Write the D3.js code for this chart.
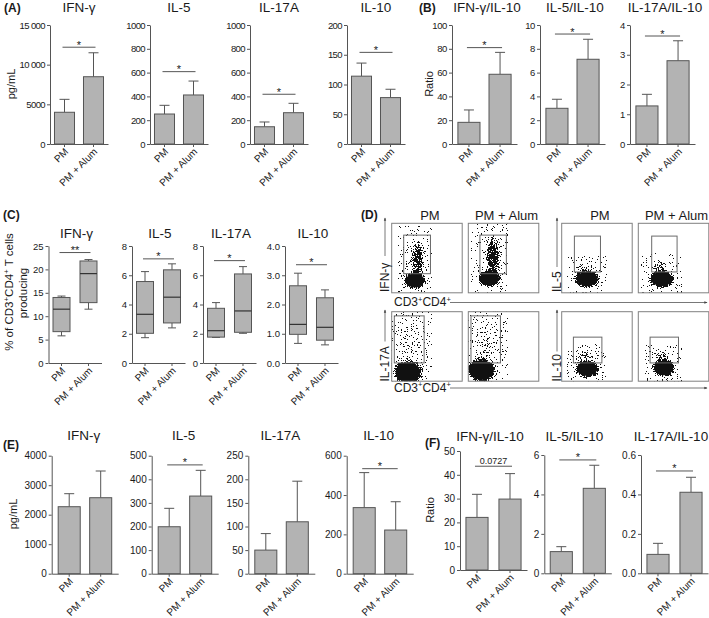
<!DOCTYPE html>
<html><head><meta charset="utf-8">
<script src="https://cdn.jsdelivr.net/npm/d3@7"></script>
<style>
body{margin:0;background:#fff}
svg{display:block}
</style>
</head><body>
<svg id="chart" width="709" height="618"></svg>
<script>
// ---------------- DATA ----------------
const groups = ["PM", "PM + Alum"];

// (A) cytokine concentration, pg/mL: mean and SEM
const aTitles = ["IFN-γ", "IL-5", "IL-17A", "IL-10"];
const aMeans = [[4000, 8480], [252, 412], [145, 263], [114, 78]];
const aSems  = [[1630, 3020], [73, 117], [40, 79], [22, 14]];
const aMax   = [15000, 1000, 1000, 200];
const aTicks = [[0, 5000, 10000, 15000], [0, 200, 400, 600, 800, 1000], [0, 200, 400, 600, 800, 1000], [0, 50, 100, 150, 200]];
const aSig   = [["*", 12200], ["*", 608], ["*", 418], ["*", 154]];

// (B) ratios
const bTitles = ["IFN-γ/IL-10", "IL-5/IL-10", "IL-17A/IL-10"];
const bMeans = [[18.2, 58.6], [3.0, 7.12], [1.28, 2.80]];
const bSems  = [[10.4, 18.4], [0.76, 1.68], [0.39, 0.67]];
const bMax   = [100, 10, 4];
const bTicks = [[0, 20, 40, 60, 80, 100], [0, 2, 4, 6, 8, 10], [0, 1, 2, 3, 4]];
const bSig   = [["*", 81], ["*", 9.24], ["*", 3.63]];

// (C) % of CD3+CD4+ T cells producing: [min, q1, median, q3, max]
const cTitles = ["IFN-γ", "IL-5", "IL-17A", "IL-10"];
const cBoxes = [
  [[5.8, 6.7, 11.5, 14.0, 14.3], [11.5, 12.9, 19.1, 21.8, 22.1]],
  [[1.73, 2.03, 3.33, 5.57, 6.25], [2.4, 2.74, 4.5, 6.37, 6.78]],
  [[1.75, 1.77, 2.21, 3.74, 4.13], [2.03, 2.1, 3.56, 6.09, 6.59]],
  [[0.67, 0.98, 1.32, 2.64, 3.07], [0.62, 0.78, 1.22, 2.23, 2.5]]
];
const cMax   = [25, 8, 8, 4];
const cTicks = [[0, 5, 10, 15, 20, 25], [0, 2, 4, 6, 8], [0, 2, 4, 6, 8], [0, 1, 2, 3, 4]];
const cSig   = [["**", 23.6], ["*", 7.12], ["*", 7.0], ["*", 3.36]];

// (D) flow cytometry dot plots (row-major: row 1 IFN-γ | IL-5, row 2 IL-17A | IL-10)
const dCols = ["PM", "PM + Alum", "PM", "PM + Alum"];
const dRowLabels = [["IFN-γ", "IL-5"], ["IL-17A", "IL-10"]];
// gates [x1, x2, y1, y2] in % of plot scale
const dGates = [
  [17, 55, 27.5, 83], [16.5, 54, 27.5, 83], [18, 55, 30, 81.6], [19, 55, 30, 81.6],
  [3.7, 46, 26.3, 94], [3.8, 45.6, 26.3, 94], [16.6, 57, 26.3, 63.4], [16.7, 57, 26.3, 63.4]
];
// dense populations [cx, cy, rx, ry] in % of plot scale
const dBlobs = [
  [33, 18, 17, 14], [30, 21, 18, 14], [36, 20, 20, 14], [33, 20, 20, 14],
  [23, 13, 23, 19], [19, 16, 23, 19], [36, 18, 19, 14], [36, 19, 18, 14]
];
// sparse populations [cx, cy, rx, ry, density]
const dClouds = [
  [37, 48, 11, 32, 0.75], [35, 52, 13, 36, 0.85], [32, 34, 16, 11, 0.35], [31, 36, 15, 12, 0.4],
  [25, 55, 22, 42, 0.12], [24, 55, 22, 42, 0.17], [32, 35, 16, 10, 0.4], [33, 35, 15, 10, 0.4]
];

// (E) cytokine concentration, pg/mL
const eTitles = ["IFN-γ", "IL-5", "IL-17A", "IL-10"];
const eMeans = [[2271, 2576], [199, 329], [50, 110], [336, 222]];
const eSems  = [[441, 905], [78, 109], [35, 86], [178, 144]];
const eMax   = [4000, 500, 250, 600];
const eTicks = [[0, 1000, 2000, 3000, 4000], [0, 100, 200, 300, 400, 500], [0, 50, 100, 150, 200, 250], [0, 200, 400, 600]];
const eSig   = [null, ["*", 461], null, ["*", 534]];

// (F) ratios
const fTitles = ["IFN-γ/IL-10", "IL-5/IL-10", "IL-17A/IL-10"];
const fMeans = [[22.1, 29.8], [1.1, 4.31], [0.096, 0.411]];
const fSems  = [[9.7, 10.7], [0.25, 1.17], [0.056, 0.076]];
const fMax   = [50, 6, 0.6];
const fTicks = [[0, 10, 20, 30, 40, 50], [0, 2, 4, 6], [0, 0.2, 0.4, 0.6]];
const fSig   = [["0.0727", 43.6], ["*", 5.75], ["*", 0.519]];

// ---------------- STYLE ----------------
const FONT = "'Liberation Sans', Arial, Helvetica, sans-serif";
const AX = "#555";
const BAR = "#b3b3b3";
const TXT = "#1a1a1a";

const svg = d3.select("#chart");
svg.append("rect").attr("width", 709).attr("height", 618).attr("fill", "#fff");
const defs = svg.append("defs");

function txt(g, x, y, s, size, opts = {}) {
  const t = g.append("text").attr("x", x).attr("y", y).text(s)
    .attr("font-family", FONT).attr("font-size", size).attr("fill", TXT)
    .attr("text-anchor", opts.anchor || "middle");
  if (opts.weight) t.attr("font-weight", opts.weight);
  if (opts.transform) t.attr("transform", opts.transform);
  return t;
}

function styleAxis(a, size, ls) {
  a.attr("font-family", FONT).attr("font-size", size);
  a.select(".domain").attr("stroke", AX).attr("stroke-width", 1);
  a.selectAll(".tick line").attr("stroke", AX);
  a.selectAll(".tick text").attr("fill", TXT).attr("letter-spacing", ls || 0);
}

function xAxisRot(g, x, yB) {
  const xa = g.append("g").attr("transform", `translate(0,${yB})`)
    .call(d3.axisBottom(x).tickSize(3).tickSizeOuter(0));
  styleAxis(xa, 10);
  xa.selectAll(".tick text").attr("x", 0).attr("y", 0).attr("dy", "0.35em")
    .attr("text-anchor", "end").attr("transform", "translate(2,6) rotate(-45)");
  return xa;
}

function sigMark(g, x, y, sig) {
  if (!sig) return;
  const [s, v] = sig;
  const x1 = x("PM") + x.bandwidth() / 2 - 2, x2 = x("PM + Alum") + x.bandwidth() / 2 + 2;
  g.append("line").attr("x1", x1).attr("x2", x2).attr("y1", y(v)).attr("y2", y(v))
    .attr("stroke", AX).attr("stroke-width", 1);
  if (s.length > 2) txt(g, (x1 + x2) / 2, y(v) - 2.5, s, 9);
  else txt(g, (x1 + x2) / 2, y(v) + 1.5, s, 11);
}

function barChart(g, c) {
  const y = d3.scaleLinear().domain([0, c.max]).range([c.yB, c.yT]);
  const x = d3.scaleBand().domain(groups).range([c.x0, c.x0 + c.rw]).paddingInner(c.pi).paddingOuter(c.po);
  const ya = g.append("g").attr("transform", `translate(${c.x0},0)`)
    .call(d3.axisLeft(y).tickValues(c.ticks).tickFormat(c.fmt || (d => d)).tickSize(3).tickSizeOuter(0).tickPadding(2));
  styleAxis(ya, c.tf || 9.5, c.ls || 0);
  groups.forEach((k, i) => {
    const cx = x(k) + x.bandwidth() / 2;
    const top = y(c.means[i] + c.sems[i]);
    g.append("line").attr("x1", cx).attr("x2", cx).attr("y1", y(c.means[i])).attr("y2", top).attr("stroke", AX);
    g.append("line").attr("x1", cx - 5).attr("x2", cx + 5).attr("y1", top).attr("y2", top).attr("stroke", AX);
  });
  g.selectAll(null).data(c.means).join("rect")
    .attr("x", (d, i) => x(groups[i])).attr("width", x.bandwidth())
    .attr("y", d => y(d)).attr("height", d => c.yB - y(d))
    .attr("fill", BAR).attr("stroke", AX).attr("stroke-width", 1);
  xAxisRot(g, x, c.yB);
  sigMark(g, x, y, c.sig);
  txt(g, c.x0 + c.tx, c.ty, c.title, 13.5);
}

function boxChart(g, c) {
  const y = d3.scaleLinear().domain([0, c.max]).range([c.yB, c.yT]);
  const x = d3.scaleBand().domain(groups).range([c.x0, c.x0 + c.rw]).paddingInner(c.pi).paddingOuter(c.po);
  const ya = g.append("g").attr("transform", `translate(${c.x0},0)`)
    .call(d3.axisLeft(y).tickValues(c.ticks).tickSize(3).tickSizeOuter(0).tickPadding(2));
  styleAxis(ya, 9.5);
  c.boxes.forEach((b, i) => {
    const x1 = x(groups[i]), w = x.bandwidth(), cx = x1 + w / 2;
    const [mn, q1, md, q3, mx] = b;
    [[mn, q1], [q3, mx]].forEach(([a, z]) => {
      g.append("line").attr("x1", cx).attr("x2", cx).attr("y1", y(a)).attr("y2", y(z)).attr("stroke", AX);
    });
    [mn, mx].forEach(v => g.append("line").attr("x1", cx - 4).attr("x2", cx + 4).attr("y1", y(v)).attr("y2", y(v)).attr("stroke", AX));
    g.append("rect").attr("x", x1).attr("width", w).attr("y", y(q3)).attr("height", y(q1) - y(q3))
      .attr("fill", BAR).attr("stroke", AX);
    g.append("line").attr("x1", x1).attr("x2", x1 + w).attr("y1", y(md)).attr("y2", y(md)).attr("stroke", "#333").attr("stroke-width", 1.2);
  });
  xAxisRot(g, x, c.yB);
  sigMark(g, x, y, c.sig);
  txt(g, c.x0 + c.tx, c.ty, c.title, 13.5);
}

const fmtThousands = d => d >= 10000 ? `${Math.floor(d / 1000)} ${String(d % 1000).padStart(3, "0")}` : d;

// ---------------- PANEL A ----------------
const gA = svg.append("g");
const aX0 = [50, 150, 250, 347];
aTitles.forEach((t, i) => barChart(gA, {
  x0: aX0[i], yB: 144, yT: 25, max: aMax[i], ticks: aTicks[i], fmt: i === 0 ? fmtThousands : null,
  means: aMeans[i], sems: aSems[i], sig: aSig[i], title: t, tx: 29, ty: 11.5,
  rw: 58, pi: 0.31, po: 0.155, tf: 9.5, ls: -0.6
}));
txt(gA, 4, 12, "(A)", 12, { anchor: "start", weight: "bold" });
txt(gA, 0, 0, "pg/mL", 11, { transform: "translate(15,84) rotate(-90)" });

// ---------------- PANEL B ----------------
const gB = svg.append("g");
const bX0 = [452, 540, 630];
bTitles.forEach((t, i) => barChart(gB, {
  x0: bX0[i], yB: 144, yT: 25, max: bMax[i], ticks: bTicks[i],
  means: bMeans[i], sems: bSems[i], sig: bSig[i], title: t, tx: 35, ty: 11.5,
  rw: 65, pi: 0.29, po: 0.19, tf: 9.5, ls: -0.4
}));
txt(gB, 419, 12, "(B)", 12, { anchor: "start", weight: "bold" });
txt(gB, 0, 0, "Ratio", 11, { transform: "translate(433,84) rotate(-90)" });

// ---------------- PANEL C ----------------
const gC = svg.append("g");
const cX0 = [48.5, 132, 203, 285];
cTitles.forEach((t, i) => boxChart(gC, {
  x0: cX0[i], yB: 363, yT: 246, max: cMax[i], ticks: cTicks[i], boxes: cBoxes[i],
  sig: cSig[i], title: t, tx: 28, ty: 237.5, rw: 53, pi: 0.37, po: 0.167
}));
txt(gC, 3, 219, "(C)", 12, { anchor: "start", weight: "bold" });
{
  const t1 = txt(gC, 0, 0, "", 11.5, { transform: "translate(13,292) rotate(-90)" });
  t1.append("tspan").text("% of CD3");
  t1.append("tspan").text("+").attr("font-size", 8).attr("dy", -4.5);
  t1.append("tspan").text("CD4").attr("dy", 4.5);
  t1.append("tspan").text("+").attr("font-size", 8).attr("dy", -4.5);
  t1.append("tspan").text(" T cells").attr("dy", 4.5);
  txt(gC, 0, 0, "producing", 11.5, { transform: "translate(27,293) rotate(-90)" });
}

// ---------------- PANEL D ----------------
const gD = svg.append("g");
txt(gD, 361, 219, "(D)", 12, { anchor: "start", weight: "bold" });
const dBoxX = [391.7, 468.3, 561.7, 638.3], dBoxW = 70.5, dBoxY = [223.3, 311.7], dBoxH = 69.5;
dCols.forEach((t, j) => txt(gD, dBoxX[j] + dBoxW / 2 + 3, 220, t, 13));

const gradB = defs.append("radialGradient").attr("id", "gBlob");
[[0, 1], [0.6, 1], [1, 0]].forEach(([o, a]) => gradB.append("stop").attr("offset", o).attr("stop-color", "#000").attr("stop-opacity", a));
const gradC = defs.append("radialGradient").attr("id", "gCloud");
[[0, 1], [0.35, 0.85], [1, 0]].forEach(([o, a]) => gradC.append("stop").attr("offset", o).attr("stop-color", "#000").attr("stop-opacity", a));

const filt = defs.append("filter").attr("id", "speck").attr("color-interpolation-filters", "sRGB")
  .attr("x", "-20%").attr("y", "-20%").attr("width", "140%").attr("height", "140%");
filt.append("feTurbulence").attr("type", "fractalNoise").attr("baseFrequency", "0.8").attr("numOctaves", "2").attr("seed", "4").attr("result", "n");
filt.append("feColorMatrix").attr("in", "n").attr("type", "matrix")
  .attr("values", "0 0 0 0 0  0 0 0 0 0  0 0 0 0 0  2.2 0 0 0 -0.6").attr("result", "na");
filt.append("feComposite").attr("in", "SourceAlpha").attr("in2", "na").attr("operator", "arithmetic")
  .attr("k1", 0).attr("k2", 1).attr("k3", 1).attr("k4", -0.4).attr("result", "s");
filt.append("feComponentTransfer").attr("in", "s").attr("result", "t")
  .append("feFuncA").attr("type", "discrete").attr("tableValues", "0 1");
filt.append("feFlood").attr("flood-color", "#111").attr("result", "f");
filt.append("feComposite").attr("in", "f").attr("in2", "t").attr("operator", "in");

for (let r = 0; r < 2; r++) {
  for (let j = 0; j < 4; j++) {
    const k = r * 4 + j;
    const left = dBoxX[j], top = dBoxY[r];
    const xs = d3.scaleLinear().domain([0, 100]).range([left, left + dBoxW]);
    const ys = d3.scaleLinear().domain([0, 100]).range([top + dBoxH, top]);
    const cid = `clipD${k}`;
    defs.append("clipPath").attr("id", cid).append("rect")
      .attr("x", left).attr("y", top).attr("width", dBoxW).attr("height", dBoxH);
    const pg = gD.append("g").attr("clip-path", `url(#${cid})`);
    const b = dBlobs[k];
    // solid core of the dense population
    pg.append("ellipse").attr("cx", xs(b[0])).attr("cy", ys(b[1]))
      .attr("rx", (xs(b[2]) - xs(0)) * 0.75).attr("ry", (ys(0) - ys(b[3])) * 0.75)
      .attr("fill", "#111");
    const sp = pg.append("g").attr("filter", "url(#speck)");
    const cl = dClouds[k];
    sp.append("ellipse").attr("cx", xs(cl[0])).attr("cy", ys(cl[1]))
      .attr("rx", xs(cl[2]) - xs(0)).attr("ry", ys(0) - ys(cl[3]))
      .attr("fill", "url(#gCloud)").attr("fill-opacity", cl[4]);
    sp.append("ellipse").attr("cx", xs(b[0])).attr("cy", ys(b[1]))
      .attr("rx", xs(b[2]) - xs(0)).attr("ry", ys(0) - ys(b[3]))
      .attr("fill", "url(#gBlob)");
    const gt = dGates[k];
    gD.append("rect").attr("x", xs(gt[0])).attr("y", ys(gt[3]))
      .attr("width", xs(gt[1]) - xs(gt[0])).attr("height", ys(gt[2]) - ys(gt[3]))
      .attr("fill", "none").attr("stroke", "#6a6a6a").attr("stroke-width", 1);
    gD.append("rect").attr("x", left).attr("y", top).attr("width", dBoxW).attr("height", dBoxH)
      .attr("fill", "none").attr("stroke", "#808080").attr("stroke-width", 1);
  }
}
const mk = defs.append("marker").attr("id", "arr").attr("viewBox", "0 0 6 6").attr("refX", 5).attr("refY", 3)
  .attr("markerWidth", 4).attr("markerHeight", 4).attr("orient", "auto");
mk.append("path").attr("d", "M0,0.8 L6,3 L0,5.2 Z").attr("fill", "#444");

function dYLabel(xBase, yBottom, yTopEnd, label, len) {
  txt(gD, 0, 0, label, 12, { anchor: "start", transform: `translate(${xBase},${yBottom}) rotate(-90)` });
  gD.append("line").attr("x1", xBase - 4).attr("x2", xBase - 4).attr("y1", yBottom - len - 3).attr("y2", yTopEnd)
    .attr("stroke", "#555").attr("stroke-width", 0.8).attr("marker-end", "url(#arr)");
}
function dXLabel(yBase) {
  const t = txt(gD, 394, yBase, "", 12, { anchor: "start" });
  t.append("tspan").text("CD3");
  t.append("tspan").text("+").attr("font-size", 7.5).attr("dy", -4.5);
  t.append("tspan").text("CD4").attr("dy", 4.5);
  t.append("tspan").text("+").attr("font-size", 7.5).attr("dy", -4.5);
  gD.append("line").attr("x1", 450).attr("x2", 707).attr("y1", yBase - 3.5).attr("y2", yBase - 3.5)
    .attr("stroke", "#555").attr("stroke-width", 0.8).attr("marker-end", "url(#arr)");
}
dYLabel(389, 292, 218, dRowLabels[0][0], 33);
dYLabel(561, 292, 218, dRowLabels[0][1], 22);
dYLabel(389, 381.5, 310, dRowLabels[1][0], 37);
dYLabel(561, 381.5, 310, dRowLabels[1][1], 27);
dXLabel(306);
dXLabel(391.5);

// ---------------- PANEL E ----------------
const gE = svg.append("g");
const eX0 = [51.7, 151.7, 248.3, 346.7];
eTitles.forEach((t, i) => barChart(gE, {
  x0: eX0[i], yB: 573.7, yT: 455.7, max: eMax[i], ticks: eTicks[i],
  means: eMeans[i], sems: eSems[i], sig: eSig[i], title: t, tx: 32, ty: 439.5,
  rw: 66.5, pi: 0.3, po: 0.206, tf: 10
}));
txt(gE, 3, 449, "(E)", 12, { anchor: "start", weight: "bold" });
txt(gE, 0, 0, "pg/mL", 11, { transform: "translate(17,514) rotate(-90)" });

// ---------------- PANEL F ----------------
const gF = svg.append("g");
const fX0 = [460, 544.3, 641];
const fYB = [570, 573.3, 573.3], fYT = [451, 455, 455];
fTitles.forEach((t, i) => barChart(gF, {
  x0: fX0[i], yB: fYB[i], yT: fYT[i], max: fMax[i], ticks: fTicks[i], fmt: i === 2 ? d3.format(".1f") : null,
  means: fMeans[i], sems: fSems[i], sig: fSig[i], title: t, tx: 30, ty: 440.5,
  rw: 67, pi: 0.33, po: 0.18, tf: 10
}));
txt(gF, 425, 447, "(F)", 12, { anchor: "start", weight: "bold" });
txt(gF, 0, 0, "Ratio", 11, { transform: "translate(434,510) rotate(-90)" });
</script>
</body></html>
